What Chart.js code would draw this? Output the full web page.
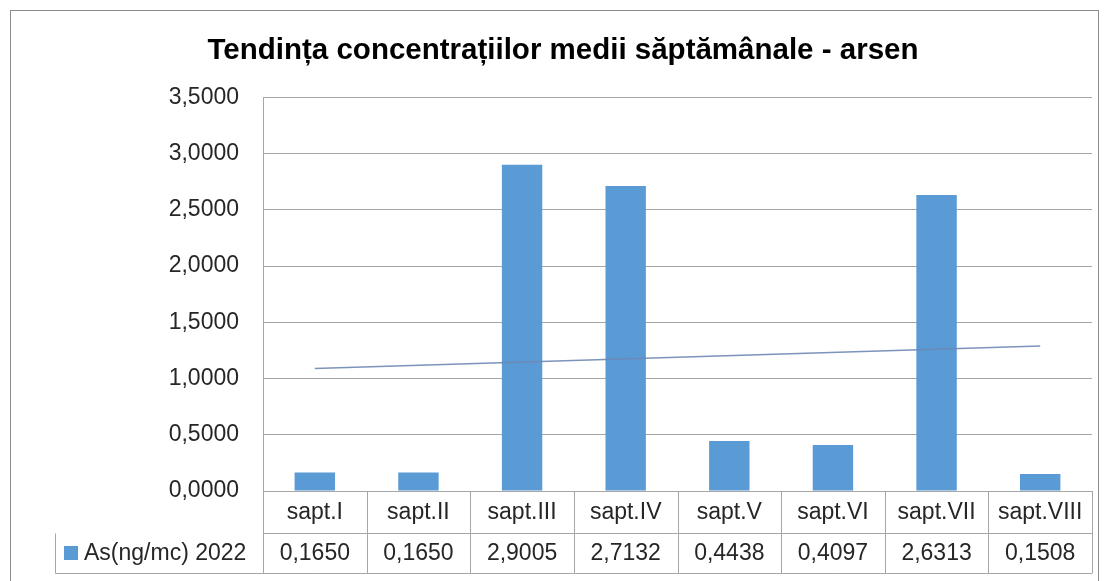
<!DOCTYPE html>
<html>
<head>
	<title>Tendinta concentratiilor medii saptamanale - arsen</title>
	<script src="https://cdn.jsdelivr.net/npm/chart.js@4.4.0/dist/chart.umd.min.js"></script>
	<style>
		html, body { margin: 0; padding: 0; background: #fff; }
		#wrap { width: 1106px; height: 581px; }
	</style>
</head>
<body>
	<div id="wrap"><canvas id="canvas"></canvas></div>
	<script type="text/javascript">
		var weeks = ['sapt.I', 'sapt.II', 'sapt.III', 'sapt.IV', 'sapt.V', 'sapt.VI', 'sapt.VII', 'sapt.VIII'];
		var arsen = [0.1650, 0.1650, 2.9005, 2.7132, 0.4438, 0.4097, 2.6313, 0.1508];
		// trend line ends
		var trend = [1.09, null, null, null, null, null, null, 1.29];
		var seriesName = 'As(ng/mc) 2022';
		var titleText = 'Tendința concentrațiilor medii săptămânale - arsen';

		var barColor = '#5B9BD5';
		var gridColor = '#A6A6A6';
		var textFont = '23px "Liberation Sans", Arial, sans-serif';

		function fmt(v) {
			return v.toFixed(4).replace('.', ',');
		}

		// outer frame + data table under the plot
		var tablePlugin = {
			id: 'dataTable',
			beforeDraw: function(chart) {
				var c = chart.ctx;
				c.save();
				c.fillStyle = '#fff';
				c.fillRect(0, 0, chart.width, chart.height);
				c.strokeStyle = '#8C8C8C';
				c.lineWidth = 1;
				c.strokeRect(10.5, 10.5, 1088, 600);
				c.restore();
			},
			afterDraw: function(chart) {
				var c = chart.ctx;
				var area = chart.chartArea;
				var x = chart.scales.x;
				var top = area.bottom, mid = top + 42, bot = top + 82;
				var left = 55.5;
				var step = (area.right - area.left) / weeks.length;
				c.save();
				c.strokeStyle = gridColor;
				c.lineWidth = 1;
				c.beginPath();
				c.moveTo(area.left, mid + 0.5); c.lineTo(area.right, mid + 0.5);
				c.moveTo(left, mid + 0.5); c.lineTo(left, bot + 0.5);
				c.moveTo(left, bot + 0.5); c.lineTo(area.right, bot + 0.5);
				for (var i = 0; i <= weeks.length; i++) {
					var gx = Math.round(area.left + i * step) + 0.5;
					c.moveTo(gx, top); c.lineTo(gx, bot + 0.5);
				}
				c.stroke();

				c.font = textFont;
				c.fillStyle = '#262626';
				c.textAlign = 'center';
				c.textBaseline = 'middle';
				for (var j = 0; j < weeks.length; j++) {
					var cx = x.getPixelForValue(j);
					c.fillText(weeks[j], cx, (top + mid) / 2 + 1);
					c.fillText(fmt(arsen[j]), cx, (mid + bot) / 2 + 1);
				}
				c.fillStyle = barColor;
				c.fillRect(64, 546, 14, 14);
				c.fillStyle = '#262626';
				c.textAlign = 'left';
				c.fillText(seriesName, 84, (mid + bot) / 2 + 1);
				c.restore();
			}
		};

		window.onload = function() {
			var ctx = document.getElementById('canvas').getContext('2d');
			new Chart(ctx, {
				type: 'bar',
				data: {
					labels: weeks,
					datasets: [{
						type: 'line',
						label: 'trend',
						data: trend,
						spanGaps: true,
						borderColor: 'rgba(110,135,180,0.9)',
						borderWidth: 1.5,
						pointRadius: 0,
						fill: false,
						order: 0
					}, {
						label: seriesName,
						data: arsen,
						backgroundColor: barColor,
						categoryPercentage: 1,
						barPercentage: 0.39,
						order: 1
					}]
				},
				options: {
					responsive: true,
					maintainAspectRatio: false,
					animation: false,
					layout: { padding: { left: 34, right: 14, top: 0, bottom: 90 } },
					plugins: {
						legend: { display: false },
						tooltip: { enabled: false },
						title: {
							display: true,
							text: titleText,
							color: '#000',
							font: { family: '"Liberation Sans", Arial, sans-serif', size: 29.5, weight: 'bold' },
							padding: { top: 33, bottom: 29 }
						}
					},
					scales: {
						x: {
							display: false
						},
						y: {
							min: 0,
							max: 3.5,
							ticks: {
								stepSize: 0.5,
								color: '#262626',
								font: { family: '"Liberation Sans", Arial, sans-serif', size: 23 },
								padding: 24,
								callback: function(v) { return fmt(v); }
							},
							grid: { color: gridColor, drawTicks: false },
							border: { color: gridColor },
							afterFit: function(s) { s.width = 229; }
						}
					}
				},
				plugins: [tablePlugin]
			});
		};
	</script>
</body>
</html>
